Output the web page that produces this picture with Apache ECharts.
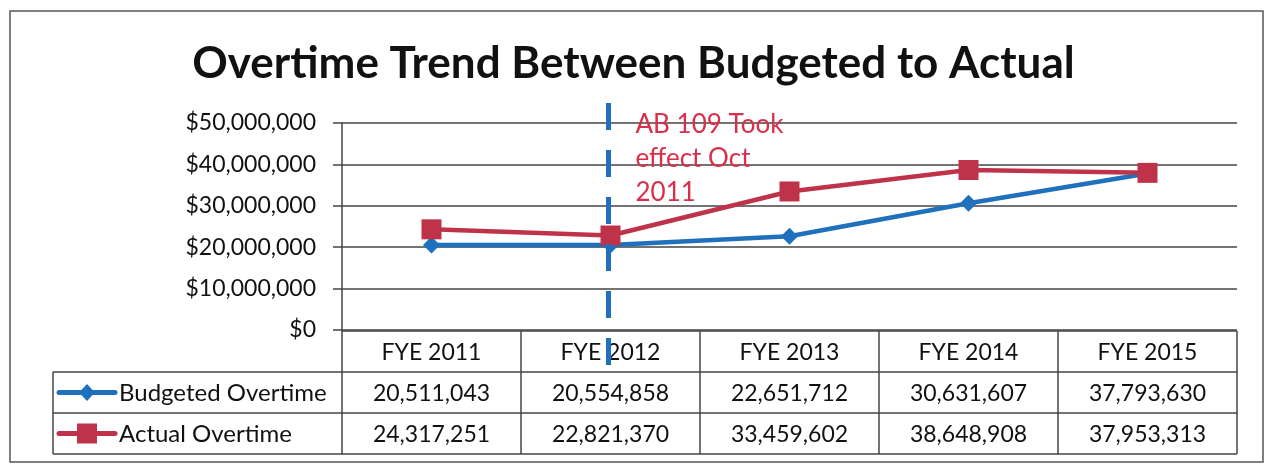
<!DOCTYPE html>
<html>
<head>
<meta charset="utf-8">
<script src="https://cdn.jsdelivr.net/npm/echarts@6/dist/echarts.min.js"></script>
<style>
  html, body { margin: 0; padding: 0; background: #fff; }
  #chart { width: 1267px; height: 464px; }
</style>
</head>
<body>
<div id="chart"></div>
<script>
// chart data
const categories = ['FYE 2011', 'FYE 2012', 'FYE 2013', 'FYE 2014', 'FYE 2015'];
const budgeted = [20511043, 20554858, 22651712, 30631607, 37793630];
const actual = [24317251, 22821370, 33459602, 38648908, 37953313];
const seriesNames = ['Budgeted Overtime', 'Actual Overtime'];
const titleText = 'Overtime Trend Between Budgeted to Actual';
const noteLines = ['AB 109 Took', 'effect Oct', '2011'];
const noteCategory = 'FYE 2012';

const blue = '#1F70BD';
const red = '#BE3349';
const font = 'Lato, "Liberation Sans", sans-serif';

const chart = echarts.init(document.getElementById('chart'));

function money(v) {
  return '$' + v.toLocaleString('en-US');
}

const option = {
  animation: false,
  textStyle: { fontFamily: font },
  title: {
    text: titleText,
    left: 'center',
    top: 37,
    textStyle: { fontSize: 44, fontWeight: 'bold', color: '#111', fontFamily: font },
  },
  grid: { left: 342, right: 30, top: 123, bottom: 134 },
  xAxis: {
    type: 'category',
    data: categories,
    boundaryGap: true,
    axisLine: { show: false },
    axisTick: { show: false },
    axisLabel: { show: false },
  },
  yAxis: {
    type: 'value',
    min: 0,
    max: 50000000,
    interval: 10000000,
    axisLine: { show: true, lineStyle: { color: '#444', width: 1.5 } },
    axisTick: { show: true, length: 9, lineStyle: { color: '#444', width: 1.5 } },
    splitLine: { lineStyle: { color: '#444', width: 1.5 } },
    axisLabel: {
      formatter: money,
      color: '#111',
      fontSize: 23,
      margin: 26,
      fontFamily: font,
    },
  },
  series: [
    {
      name: seriesNames[0],
      type: 'line',
      data: budgeted,
      symbol: 'diamond',
      symbolSize: 17,
      lineStyle: { color: blue, width: 4.5 },
      itemStyle: { color: blue },
      z: 3,
    },
    {
      name: seriesNames[1],
      type: 'line',
      data: actual,
      symbol: 'rect',
      symbolSize: 20,
      lineStyle: { color: red, width: 4.5 },
      itemStyle: { color: red },
      z: 4,
    },
  ],
};

chart.setOption(option);

// data table, note and frame drawn after the axes are known
function buildGraphics() {
  const g = [];
  const x0 = chart.convertToPixel({ xAxisIndex: 0 }, categories[0]);
  const x1 = chart.convertToPixel({ xAxisIndex: 0 }, categories[1]);
  const colW = x1 - x0;
  const left = x0 - colW / 2;
  const right = left + colW * categories.length;
  const yZero = chart.convertToPixel({ yAxisIndex: 0 }, 0);
  const rows = [yZero + 1, 372, 413, 454];
  const legendLeft = 53;
  const line = { stroke: '#444', lineWidth: 1.5 };

  // outer frame
  g.push({ type: 'rect', shape: { x: 10, y: 11, width: 1253, height: 451 }, style: { fill: null, stroke: '#555', lineWidth: 1.5 }, silent: true });

  // table horizontal lines
  g.push({ type: 'line', shape: { x1: left, y1: rows[0], x2: right, y2: rows[0] }, style: line });
  for (let r = 1; r < rows.length; r++) {
    g.push({ type: 'line', shape: { x1: legendLeft, y1: rows[r], x2: right, y2: rows[r] }, style: line });
  }
  // table vertical lines
  g.push({ type: 'line', shape: { x1: left, y1: yZero, x2: left, y2: rows[3] }, style: line });
  for (let c = 1; c <= categories.length; c++) {
    const x = left + colW * c;
    g.push({ type: 'line', shape: { x1: x, y1: rows[0], x2: x, y2: rows[3] }, style: line });
  }
  g.push({ type: 'line', shape: { x1: legendLeft, y1: rows[1], x2: legendLeft, y2: rows[3] }, style: line });

  // header and values
  const cell = (text, x, y) => ({
    type: 'text',
    style: { text: text, x: x, y: y, textAlign: 'center', textVerticalAlign: 'middle', fontSize: 23, fontFamily: font, fill: '#111' },
  });
  categories.forEach((cat, i) => {
    const cx = chart.convertToPixel({ xAxisIndex: 0 }, cat);
    g.push(cell(cat, cx, (rows[0] + rows[1]) / 2 + 1));
    g.push(cell(budgeted[i].toLocaleString('en-US'), cx, (rows[1] + rows[2]) / 2 + 1));
    g.push(cell(actual[i].toLocaleString('en-US'), cx, (rows[2] + rows[3]) / 2 + 1));
  });

  // legend keys in the table
  const keys = [
    { y: (rows[1] + rows[2]) / 2, color: blue, symbol: 'diamond', size: 17 },
    { y: (rows[2] + rows[3]) / 2, color: red, symbol: 'rect', size: 20 },
  ];
  keys.forEach((k, i) => {
    g.push({ type: 'line', shape: { x1: 59, y1: k.y, x2: 115, y2: k.y }, style: { stroke: k.color, lineWidth: 5, lineCap: 'round' } });
    if (k.symbol === 'diamond') {
      g.push({ type: 'polygon', shape: { points: [[87, k.y - 8.5], [95, k.y], [87, k.y + 8.5], [79, k.y]] }, style: { fill: k.color } });
    } else {
      g.push({ type: 'rect', shape: { x: 77, y: k.y - 10, width: 20, height: 20 }, style: { fill: k.color } });
    }
    g.push({
      type: 'text',
      style: { text: seriesNames[i], x: 119, y: k.y + 1, textAlign: 'left', textVerticalAlign: 'middle', fontSize: 24, fontFamily: font, fill: '#111' },
    });
  });

  // dashed marker line for AB 109
  const nx = chart.convertToPixel({ xAxisIndex: 0 }, noteCategory) - 2;
  g.push({
    type: 'line',
    shape: { x1: nx, y1: 103, x2: nx, y2: 372 },
    style: { stroke: blue, lineWidth: 5, lineDash: [27, 20] },
    z: 10,
  });
  noteLines.forEach((t, i) => {
    g.push({
      type: 'text',
      style: { text: t, x: nx + 27, y: 125 + i * 34, textAlign: 'left', textVerticalAlign: 'middle', fontSize: 26, fontFamily: font, fill: '#D8304A' },
      z: 0,
    });
  });
  return g;
}

chart.setOption({ graphic: buildGraphics() });

window.addEventListener('resize', () => {
  chart.resize();
});
</script>
</body>
</html>
